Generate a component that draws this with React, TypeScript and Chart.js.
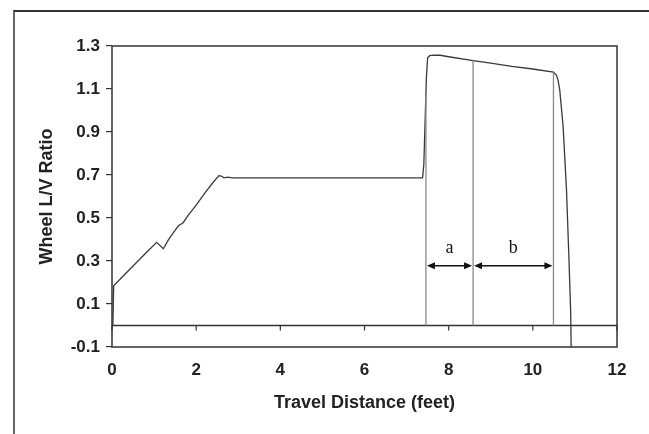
import React, { useEffect, useRef } from "react";
import { Chart, registerables } from "chart.js";

Chart.register(...registerables);

const curveX = [0.02, 0.04, 0.3, 0.5, 0.8, 1.06, 1.22, 1.34, 1.45, 1.58, 1.69, 1.8, 2.0, 2.2, 2.4, 2.54, 2.6, 2.66, 2.75, 2.85, 4, 6, 7.38, 7.41, 7.44, 7.47, 7.5, 7.55, 7.65, 7.8, 8.0, 8.58, 9.0, 9.5, 10.0, 10.49, 10.56, 10.6, 10.64, 10.72, 10.8, 10.86, 10.9, 10.91];
const curveY = [0.0, 0.185, 0.237, 0.277, 0.336, 0.387, 0.357, 0.398, 0.43, 0.464, 0.478, 0.51, 0.56, 0.615, 0.665, 0.697, 0.695, 0.687, 0.69, 0.687, 0.687, 0.687, 0.687, 0.75, 0.95, 1.15, 1.245, 1.255, 1.258, 1.257, 1.25, 1.232, 1.22, 1.205, 1.193, 1.178, 1.165, 1.14, 1.095, 0.925, 0.63, 0.3, 0.058, -0.1];

const markerX = [7.46, 8.58, 10.49];
const markerTop = [1.07, 1.232, 1.178];

const arrowStarts = [7.46, 8.58];
const arrowEnds = [8.58, 10.49];
const arrowLabels = ["a", "b"];
const arrowY = 0.278;
const labelY = 0.36;

const xTicks = [0, 2, 4, 6, 8, 10, 12];
const yTicks = [-0.1, 0.1, 0.3, 0.5, 0.7, 0.9, 1.1, 1.3];

const SANS = "'Liberation Sans', Arial, sans-serif";

const decorPlugin = {
  id: "decor",
  beforeDatasetsDraw(chart: any) {
    const { ctx, chartArea, scales } = chart;
    const xs = scales.x, ys = scales.y;
    ctx.save();
    const y0 = ys.getPixelForValue(0);
    ctx.strokeStyle = "#333";
    ctx.lineWidth = 1.3;
    ctx.beginPath();
    ctx.moveTo(chartArea.left, y0);
    ctx.lineTo(chartArea.right, y0);
    ctx.stroke();
    ctx.lineWidth = 1.2;
    xTicks.forEach((v) => {
      const px = xs.getPixelForValue(v);
      ctx.beginPath();
      ctx.moveTo(px, y0);
      ctx.lineTo(px, y0 + 5);
      ctx.stroke();
    });
    ctx.restore();
  },
  afterDatasetsDraw(chart: any) {
    const { ctx, chartArea, scales } = chart;
    const xs = scales.x, ys = scales.y;
    ctx.save();
    ctx.strokeStyle = "#333";
    ctx.lineWidth = 1.5;
    ctx.strokeRect(chartArea.left, chartArea.top, chartArea.right - chartArea.left, chartArea.bottom - chartArea.top);
    const ay = ys.getPixelForValue(arrowY);
    ctx.strokeStyle = "#111";
    ctx.fillStyle = "#111";
    ctx.lineWidth = 1.5;
    const head = (tipX: number, dir: number) => {
      ctx.beginPath();
      ctx.moveTo(tipX, ay);
      ctx.lineTo(tipX - dir * 8, ay - 3.5);
      ctx.lineTo(tipX - dir * 8, ay + 3.5);
      ctx.closePath();
      ctx.fill();
    };
    arrowStarts.forEach((s, i) => {
      const x1 = xs.getPixelForValue(s) + 1;
      const x2 = xs.getPixelForValue(arrowEnds[i]) - 1;
      ctx.beginPath();
      ctx.moveTo(x1 + 4, ay);
      ctx.lineTo(x2 - 4, ay);
      ctx.stroke();
      head(x1, -1);
      head(x2, 1);
      ctx.font = "18px 'Liberation Serif', serif";
      ctx.textAlign = "center";
      ctx.textBaseline = "middle";
      ctx.fillText(arrowLabels[i], (x1 + x2) / 2, ys.getPixelForValue(labelY));
    });
    ctx.restore();
  },
};

export default function App() {
  const ref = useRef<HTMLCanvasElement | null>(null);
  useEffect(() => {
    if (!ref.current) return;
    const curve = curveX.map((x, i) => ({ x, y: curveY[i] }));
    const markerSets = markerX.map((x, i) => ({
      data: [{ x, y: 0 }, { x, y: markerTop[i] }],
      borderColor: "#8a8a8a",
      borderWidth: 1.3,
      pointRadius: 0,
      showLine: true,
      fill: false,
    }));
    const chart = new Chart(ref.current, {
      type: "scatter",
      data: {
        datasets: [
          ...markerSets,
          {
            data: curve,
            borderColor: "#3a3a3a",
            borderWidth: 1.3,
            pointRadius: 0,
            showLine: true,
            fill: false,
            tension: 0,
          },
        ],
      },
      options: {
        animation: false,
        responsive: false,
        maintainAspectRatio: false,
        layout: { padding: { left: 0, top: 46, right: 32, bottom: 0 } },
        plugins: { legend: { display: false }, tooltip: { enabled: false } },
        scales: {
          x: {
            type: "linear",
            min: 0,
            max: 12,
            afterBuildTicks: (s: any) => {
              s.ticks = xTicks.map((v) => ({ value: v }));
            },
            afterFit: (s: any) => {
              s.height = 87;
            },
            grid: { display: false, drawTicks: false },
            border: { display: false },
            ticks: {
              color: "#222",
              font: { family: SANS, size: 17, weight: "bold" },
              padding: 13,
              maxRotation: 0,
              callback: (v: any) => String(v),
            },
            title: {
              display: true,
              text: "Travel Distance (feet)",
              color: "#222",
              font: { family: SANS, size: 18, weight: "bold" },
              padding: { top: 0, bottom: 20 },
            },
          },
          y: {
            type: "linear",
            min: -0.1,
            max: 1.3,
            afterBuildTicks: (s: any) => {
              s.ticks = yTicks.map((v) => ({ value: v }));
            },
            afterFit: (s: any) => {
              s.width = 112;
            },
            grid: { display: true, drawOnChartArea: false, drawTicks: true, tickLength: 6, color: "#333", lineWidth: 1.2 },
            border: { display: false },
            ticks: {
              color: "#222",
              font: { family: SANS, size: 17, weight: "bold" },
              padding: 6,
              callback: (v: any) => Number(v).toFixed(1),
            },
            title: {
              display: true,
              text: "Wheel L/V Ratio",
              color: "#222",
              font: { family: SANS, size: 18, weight: "bold" },
              padding: { top: 36, bottom: 0 },
            },
          },
        },
      },
      plugins: [decorPlugin],
    });
    return () => chart.destroy();
  }, []);
  return (
    <div style={{ position: "fixed", left: 0, top: 0, width: 649, height: 434, background: "#fff" }}>
      <div
        style={{
          position: "absolute",
          left: 13,
          top: 10,
          width: 636,
          height: 424,
          borderLeft: "2px solid #666",
          borderTop: "2px solid #333",
          boxSizing: "border-box",
        }}
      />
      <canvas ref={ref} width={649} height={434} style={{ position: "absolute", left: 0, top: 0 }} />
    </div>
  );
}
